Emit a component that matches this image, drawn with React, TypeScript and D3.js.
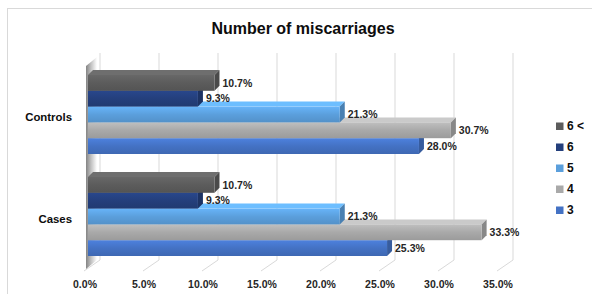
import React from "react";
import * as d3 from "d3";

const title = "Number of miscarriages";
const categories = ["Controls", "Cases"];
const seriesNames = ["6 <", "6", "5", "4", "3"];
const controlsValues = [10.7, 9.3, 21.3, 30.7, 28.0];
const casesValues = [10.7, 9.3, 21.3, 33.3, 25.3];
const tickValues = [0, 5, 10, 15, 20, 25, 30, 35];

const seriesColors = ["#5c5c5c", "#243f7c", "#5b9fdc", "#a9a9a9", "#4472c4"];
const FONT = "'Liberation Sans', Arial, sans-serif";

export default function App() {
  const W = 592, H = 294;
  const values: Record<string, number[]> = { Controls: controlsValues, Cases: casesValues };

  const x = d3.scaleLinear().domain([0, 35]).range([88, 88 + 35 * 11.82]);
  const xFront = d3.scaleLinear().domain([0, 35]).range([84, 84 + 35 * 11.8]);
  const xBack = d3.scaleLinear().domain([0, 35]).range([100, 100 + 35 * 11.8]);
  const yGroup = d3.scaleBand<string>().domain(categories).range([63.5, 267.5]).paddingInner(23 / 102).paddingOuter(23 / 204);
  const ySeries = d3.scaleBand<string>().domain(seriesNames).range([0, yGroup.bandwidth()]);
  const bh = ySeries.bandwidth();
  const dx = 5, dy = 5;
  const backTop = 53, backBottom = 260, frontBottom = 271;

  const drawOrder = seriesNames.map((s, i) => i).reverse();

  return (
    <svg width={W} height={H} style={{ position: "absolute", left: 0, top: 0, background: "#fff" }} fontFamily={FONT}>
      <defs>
        {seriesColors.map((c, i) => {
          const base = d3.color(c)!;
          return (
            <linearGradient key={i} id={`g${i}`} x1="0" y1="0" x2="0" y2="1">
              <stop offset="0%" stopColor={base.brighter(0.35).formatHex()} />
              <stop offset="50%" stopColor={c} />
              <stop offset="100%" stopColor={base.darker(0.25).formatHex()} />
            </linearGradient>
          );
        })}
        <linearGradient id="wall" x1="0" y1="0" x2="1" y2="0">
          <stop offset="0%" stopColor="#6e6e6e" />
          <stop offset="45%" stopColor="#b5b5b5" />
          <stop offset="100%" stopColor="#ffffff" />
        </linearGradient>
      </defs>
      {/* chart border */}
      <rect x={7.5} y={8.5} width={W} height={H} fill="none" stroke="#d9d9d9" strokeWidth={1} />
      {/* title */}
      <text x={303} y={34} textAnchor="middle" fontSize={16} fontWeight="bold" fill="#0d0d0d">{title}</text>
      {/* back wall gridlines + floor */}
      {tickValues.map(t => (
        <g key={t}>
          <line x1={xBack(t)} x2={xBack(t)} y1={backTop} y2={backBottom} stroke="#d9d9d9" />
          <line x1={xBack(t)} x2={xFront(t)} y1={backBottom} y2={frontBottom} stroke="#d9d9d9" />
        </g>
      ))}
      {/* left wall */}
      <polygon points={`86,66 97,57 97,${backBottom} 86,${frontBottom - 2}`} fill="url(#wall)" opacity={0.85} />
      {/* bars */}
      {categories.map(cat => (
        <g key={cat}>
          {drawOrder.map(i => {
            const s = seriesNames[i];
            const v = values[cat][i];
            const y0 = yGroup(cat)! + ySeries(s)!;
            const x0 = x(0), x1 = x(v);
            const base = d3.color(seriesColors[i])!;
            const topC = base.brighter(0.5).formatHex();
            const sideC = base.darker(0.6).formatHex();
            return (
              <g key={s}>
                <polygon points={`${x0},${y0} ${x0 + dx},${y0 - dy} ${x1 + dx},${y0 - dy} ${x1},${y0}`} fill={topC} />
                <polygon points={`${x1},${y0} ${x1 + dx},${y0 - dy} ${x1 + dx},${y0 + bh - dy} ${x1},${y0 + bh}`} fill={sideC} />
                <rect x={x0} y={y0} width={x1 - x0} height={bh} fill={`url(#g${i})`} />
              </g>
            );
          })}
          {seriesNames.map((s, i) => {
            const v = values[cat][i];
            const y0 = yGroup(cat)! + ySeries(s)!;
            return (
              <text key={s} x={x(v) + dx + 3} y={y0 + bh / 2 + 1} dominantBaseline="middle" fontSize={10.5} fontWeight="bold" fill="#262626">
                {v.toFixed(1) + "%"}
              </text>
            );
          })}
          <text x={72} y={yGroup(cat)! + yGroup.bandwidth() / 2 + 3.5} textAnchor="end" dominantBaseline="middle" fontSize={11.4} fontWeight="bold" fill="#0d0d0d">
            {cat}
          </text>
        </g>
      ))}
      {/* x tick labels */}
      {tickValues.map(t => (
        <text key={t} x={xFront(t) + 1} y={288} textAnchor="middle" fontSize={10.5} fontWeight="bold" fill="#262626">
          {t.toFixed(1) + "%"}
        </text>
      ))}
      {/* legend */}
      {seriesNames.map((s, i) => {
        const cy = 126 + i * 21;
        return (
          <g key={s}>
            <rect x={556} y={cy - 3.5} width={7.5} height={7.5} fill={seriesColors[i]} />
            <text x={567} y={cy + 1} dominantBaseline="middle" fontSize={12} fontWeight="bold" fill="#0d0d0d">{s}</text>
          </g>
        );
      })}
    </svg>
  );
}
